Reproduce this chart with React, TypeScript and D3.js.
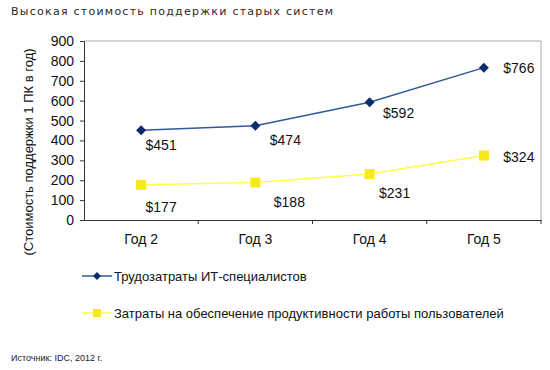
import * as d3 from "d3";
import { useEffect, useRef } from "react";

const TITLE = "Высокая стоимость поддержки старых систем";
const Y_TITLE = "(Стоимость поддержки 1 ПК в год)";
const SOURCE = "Источник: IDC, 2012 г.";

const YEARS = ["Год 2", "Год 3", "Год 4", "Год 5"];
const IT_LABOR = [451, 474, 592, 766];
const USER_PRODUCTIVITY = [177, 188, 231, 324];
const SERIES_NAMES = [
  "Трудозатраты ИТ-специалистов",
  "Затраты на обеспечение продуктивности работы пользователей",
];
const Y_TICKS = [0, 100, 200, 300, 400, 500, 600, 700, 800, 900];

const BLUE_LINE = "#2f5a97";
const BLUE_MARK = "#0c2c6e";
const YELLOW_LINE = "#ffff4a";
const YELLOW_MARK = "#f7ea1c";
const FONT = "'Liberation Sans', Arial, sans-serif";

const WIDTH = 550;
const HEIGHT = 370;
const PLOT = { left: 84, right: 541, top: 41, bottom: 220 };

const App = () => {
  const svgRef = useRef<SVGSVGElement>(null);

  useEffect(() => {
    if (!svgRef.current) return;
    const svg = d3.select(svgRef.current);
    svg.selectAll("*").remove();

    const x = d3.scaleBand<string>().domain(YEARS).range([PLOT.left, PLOT.right]);
    const y = d3.scaleLinear().domain([0, 900]).range([PLOT.bottom, PLOT.top]);
    const cx = (d: string) => (x(d) as number) + x.bandwidth() / 2;

    svg
      .append("rect")
      .attr("width", WIDTH)
      .attr("height", HEIGHT)
      .attr("fill", "#fff");

    // title
    svg
      .append("text")
      .attr("x", 11)
      .attr("y", 15)
      .attr("font-family", "'DejaVu Sans', sans-serif")
      .attr("font-size", 11)
      .attr("letter-spacing", 1.25)
      .attr("fill", "#2a2a2a")
      .text(TITLE);

    // plot border (top / right)
    svg
      .append("path")
      .attr("d", `M${PLOT.left},${PLOT.top}H${PLOT.right}V${PLOT.bottom}`)
      .attr("fill", "none")
      .attr("stroke", "#a8a8a8")
      .attr("stroke-width", 1);

    // y axis
    const yAxis = svg
      .append("g")
      .attr("transform", `translate(${PLOT.left},0)`)
      .call(d3.axisLeft(y).tickValues(Y_TICKS).tickSize(4).tickPadding(6));
    yAxis.select(".domain").attr("stroke", "#333");
    yAxis.selectAll(".tick line").attr("stroke", "#333");
    yAxis
      .selectAll(".tick text")
      .attr("font-family", FONT)
      .attr("font-size", 14)
      .attr("fill", "#111");

    // x axis
    const xAxis = svg
      .append("g")
      .attr("transform", `translate(0,${PLOT.bottom})`)
      .call(d3.axisBottom(x).tickSize(0).tickPadding(14));
    xAxis.select(".domain").attr("stroke", "#333");
    xAxis
      .selectAll(".tick text")
      .attr("font-family", FONT)
      .attr("font-size", 14)
      .attr("fill", "#111");
    // tick marks between categories
    svg
      .append("g")
      .selectAll("line")
      .data(YEARS.slice(1).concat(["end"]))
      .enter()
      .append("line")
      .attr("x1", (d) => (d === "end" ? PLOT.right : (x(d) as number)))
      .attr("x2", (d) => (d === "end" ? PLOT.right : (x(d) as number)))
      .attr("y1", PLOT.bottom)
      .attr("y2", PLOT.bottom + 4)
      .attr("stroke", "#333");

    // y axis title
    svg
      .append("text")
      .attr("transform", `translate(33,${152}) rotate(-90)`)
      .attr("text-anchor", "middle")
      .attr("font-family", FONT)
      .attr("font-size", 13)
      .attr("fill", "#111")
      .text(Y_TITLE);

    const line = d3
      .line<number>()
      .x((_, i) => cx(YEARS[i]))
      .y((d) => y(d));

    // diamond = square rotated 45deg (d3's symbolDiamond is too tall)
    const diamond = d3.symbol().type(d3.symbolSquare).size(50);
    const square = d3.symbol().type(d3.symbolSquare).size(100);

    // yellow series
    svg
      .append("path")
      .attr("d", line(USER_PRODUCTIVITY))
      .attr("fill", "none")
      .attr("stroke", YELLOW_LINE)
      .attr("stroke-width", 1.5);
    svg
      .append("g")
      .selectAll("path")
      .data(USER_PRODUCTIVITY)
      .enter()
      .append("path")
      .attr("d", square)
      .attr("transform", (d, i) => `translate(${cx(YEARS[i])},${y(d)})`)
      .attr("fill", YELLOW_MARK);

    // blue series
    svg
      .append("path")
      .attr("d", line(IT_LABOR))
      .attr("fill", "none")
      .attr("stroke", BLUE_LINE)
      .attr("stroke-width", 1.5);
    svg
      .append("g")
      .selectAll("path")
      .data(IT_LABOR)
      .enter()
      .append("path")
      .attr("d", diamond)
      .attr("transform", (d, i) => `translate(${cx(YEARS[i])},${y(d)}) rotate(45)`)
      .attr("fill", BLUE_MARK);

    // data labels
    const blueOffsets = [
      [20, 20],
      [30, 19],
      [29, 16],
      [35, 5],
    ];
    const yellowOffsets = [
      [20, 27],
      [34, 24],
      [25, 24],
      [35, 6],
    ];
    const addLabels = (vals: number[], offs: number[][]) =>
      svg
        .append("g")
        .selectAll("text")
        .data(vals)
        .enter()
        .append("text")
        .attr("x", (_, i) => cx(YEARS[i]) + offs[i][0])
        .attr("y", (d, i) => y(d) + offs[i][1])
        .attr("text-anchor", "middle")
        .attr("font-family", FONT)
        .attr("font-size", 14)
        .attr("fill", "#111")
        .text((d) => `$${d}`);
    addLabels(IT_LABOR, blueOffsets);
    addLabels(USER_PRODUCTIVITY, yellowOffsets);

    // legend
    const legendDiamond = d3.symbol().type(d3.symbolSquare).size(32);
    const legendSquare = d3.symbol().type(d3.symbolSquare).size(64);
    const legend = [
      { name: SERIES_NAMES[0], line: BLUE_LINE, mark: BLUE_MARK, sym: legendDiamond, rot: 45, y: 276 },
      { name: SERIES_NAMES[1], line: YELLOW_LINE, mark: YELLOW_MARK, sym: legendSquare, rot: 0, y: 313 },
    ];
    const lg = svg
      .append("g")
      .selectAll("g")
      .data(legend)
      .enter()
      .append("g")
      .attr("transform", (d) => `translate(0,${d.y})`);
    lg.append("line")
      .attr("x1", 82)
      .attr("x2", 112)
      .attr("stroke", (d) => d.line)
      .attr("stroke-width", 1.5);
    lg.append("path")
      .attr("d", (d) => d.sym())
      .attr("transform", (d) => `translate(97,0) rotate(${d.rot})`)
      .attr("fill", (d) => d.mark);
    lg.append("text")
      .attr("x", 114)
      .attr("y", 5)
      .attr("font-family", FONT)
      .attr("font-size", 13)
      .attr("fill", "#111")
      .text((d) => d.name);

    // source
    svg
      .append("text")
      .attr("x", 11)
      .attr("y", 361)
      .attr("font-family", FONT)
      .attr("font-size", 9)
      .attr("fill", "#222")
      .text(SOURCE);
  }, []);

  return (
    <svg
      ref={svgRef}
      width={WIDTH}
      height={HEIGHT}
      style={{ position: "absolute", left: 0, top: 0 }}
    />
  );
};

export default App;
